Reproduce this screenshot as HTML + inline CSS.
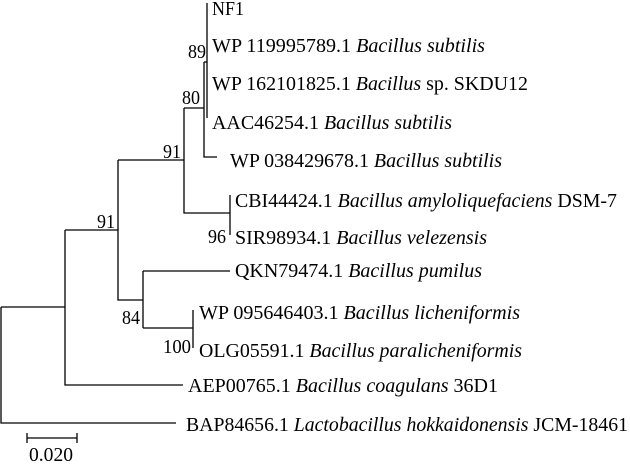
<!DOCTYPE html>
<html><head><style>
html,body{margin:0;padding:0;background:#fff;}
svg{display:block;}
text{font-family:"Liberation Serif",serif;font-size:19.5px;fill:#000;}
</style></head><body>
<svg width="630" height="465" viewBox="0 0 630 465" xmlns="http://www.w3.org/2000/svg">
<g stroke="#000" stroke-width="1.3" fill="none">
<path d="M207 3V118"/>
<path d="M204 62H207"/>
<path d="M204 62V157H217"/>
<path d="M184 108H204"/>
<path d="M184 108V213H230"/>
<path d="M230 195V235"/>
<path d="M118 160H184"/>
<path d="M118 160V300H143"/>
<path d="M143 271V328"/>
<path d="M143 271H230"/>
<path d="M143 328H193"/>
<path d="M193 310V348"/>
<path d="M65 230H118"/>
<path d="M65 230V385H183"/>
<path d="M1 307H65"/>
<path d="M1 307V423H176"/>
<path d="M27 438H77M27 433V443M77 433V443"/>
</g>
<text x="212" y="15" textLength="32" lengthAdjust="spacingAndGlyphs">NF1</text>
<text x="212" y="52" textLength="273" lengthAdjust="spacingAndGlyphs">WP 119995789.1 <tspan font-style="italic">Bacillus subtilis</tspan></text>
<text x="212" y="90" textLength="316" lengthAdjust="spacingAndGlyphs">WP 162101825.1 <tspan font-style="italic">Bacillus</tspan> sp. SKDU12</text>
<text x="212" y="129" textLength="240" lengthAdjust="spacingAndGlyphs">AAC46254.1 <tspan font-style="italic">Bacillus subtilis</tspan></text>
<text x="230" y="167" textLength="272" lengthAdjust="spacingAndGlyphs">WP 038429678.1 <tspan font-style="italic">Bacillus subtilis</tspan></text>
<text x="235" y="207" textLength="382" lengthAdjust="spacingAndGlyphs">CBI44424.1 <tspan font-style="italic">Bacillus amyloliquefaciens</tspan> DSM-7</text>
<text x="235" y="244" textLength="252" lengthAdjust="spacingAndGlyphs">SIR98934.1 <tspan font-style="italic">Bacillus velezensis</tspan></text>
<text x="235" y="277" textLength="247" lengthAdjust="spacingAndGlyphs">QKN79474.1 <tspan font-style="italic">Bacillus pumilus</tspan></text>
<text x="199" y="319" textLength="321" lengthAdjust="spacingAndGlyphs">WP 095646403.1 <tspan font-style="italic">Bacillus licheniformis</tspan></text>
<text x="199" y="357" textLength="323" lengthAdjust="spacingAndGlyphs">OLG05591.1 <tspan font-style="italic">Bacillus paralicheniformis</tspan></text>
<text x="188" y="392" textLength="310" lengthAdjust="spacingAndGlyphs">AEP00765.1 <tspan font-style="italic">Bacillus coagulans</tspan> 36D1</text>
<text x="186" y="431" textLength="442" lengthAdjust="spacingAndGlyphs">BAP84656.1 <tspan font-style="italic">Lactobacillus hokkaidonensis</tspan> JCM-18461</text>
<text x="188" y="58" textLength="18" lengthAdjust="spacingAndGlyphs">89</text>
<text x="182" y="104" textLength="18" lengthAdjust="spacingAndGlyphs">80</text>
<text x="163" y="158" textLength="18" lengthAdjust="spacingAndGlyphs">91</text>
<text x="97" y="228" textLength="18" lengthAdjust="spacingAndGlyphs">91</text>
<text x="208" y="243" textLength="18" lengthAdjust="spacingAndGlyphs">96</text>
<text x="122" y="324" textLength="18" lengthAdjust="spacingAndGlyphs">84</text>
<text x="163" y="353" textLength="28" lengthAdjust="spacingAndGlyphs">100</text>
<text x="29" y="461" textLength="44" lengthAdjust="spacingAndGlyphs">0.020</text>
</svg>
</body></html>
